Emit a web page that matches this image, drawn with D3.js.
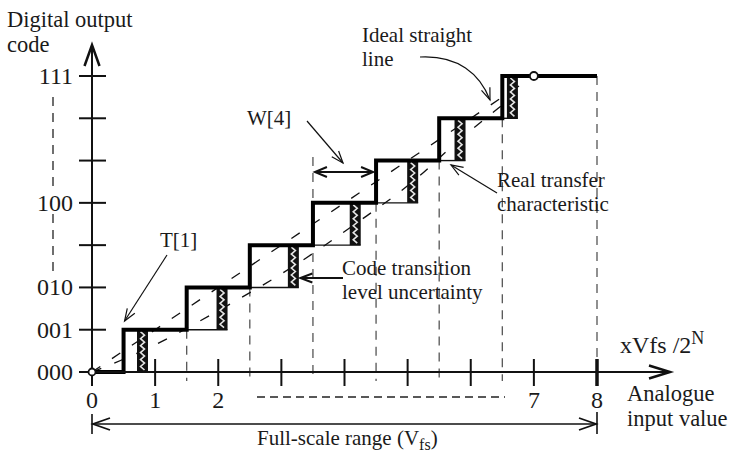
<!DOCTYPE html>
<html>
<head>
<meta charset="utf-8">
<script src="https://cdn.jsdelivr.net/npm/d3@7"></script>
<style>
  body { margin: 0; background: #fff; }
  text { font-family: "Liberation Serif", "Times New Roman", serif; fill: #1a1a1a; }
</style>
</head>
<body>
<svg id="chart" width="738" height="453"></svg>
<script>
// output codes (level index = code value)
const codes = ["000", "001", "010", "011", "100", "101", "110", "111"];
const shownCodes = [0, 1, 2, 4, 7];
// x tick labels (multiples of Vfs/2^N)
const xTicks = [1, 2, 3, 4, 5, 6, 7, 8];
const xTickLabels = [0, 1, 2, 7, 8];
// ideal code transitions (riser positions) and real transition centres
const idealTransitions = [0.5, 1.5, 2.5, 3.5, 4.5, 5.5, 6.5];
const realTransitions = [0.8, 2.06, 3.19, 4.17, 5.08, 5.83, 6.66];
const fullScale = 8;

var svg = d3.select("#chart");
var x = d3.scaleLinear().domain([0, 8]).range([92, 597]);
var y = d3.scaleLinear().domain([0, 7]).range([372, 76]);

function arrowHead(g, tx, ty, ang, len, half, w) {
  var c = Math.cos(ang), s = Math.sin(ang);
  var bx = tx - c * len, by = ty - s * len;
  g.append("path")
    .attr("d", "M" + (bx - s * half) + "," + (by + c * half) + "L" + tx + "," + ty +
               "L" + (bx + s * half) + "," + (by - c * half))
    .attr("fill", "none").attr("stroke", "#111").attr("stroke-width", w)
    .attr("stroke-linejoin", "miter");
}

// dashed vertical guides under each riser
var guides = svg.append("g").attr("stroke", "#555").attr("stroke-width", 1.3)
  .attr("stroke-dasharray", "9,7");
idealTransitions.forEach(function(t, i) {
  if (i === 0) return;
  var top = (i === 3) ? 157 : y(i);
  guides.append("line").attr("x1", x(t)).attr("x2", x(t)).attr("y1", top).attr("y2", 381);
});
guides.append("line").attr("x1", x(fullScale)).attr("x2", x(fullScale)).attr("y1", y(7)).attr("y2", 372);
// omitted codes marker on the left
guides.append("line").attr("x1", 53).attr("x2", 53).attr("y1", 97).attr("y2", 186).attr("stroke", "#222");
guides.append("line").attr("x1", 53).attr("x2", 53).attr("y1", 214).attr("y2", 272).attr("stroke", "#222");
// omitted x ticks marker
svg.append("line").attr("x1", 257).attr("x2", 505).attr("y1", 397).attr("y2", 397)
  .attr("stroke", "#222").attr("stroke-width", 1.3).attr("stroke-dasharray", "8,5");

// ideal straight line and line through real transitions
var diag = svg.append("g").attr("fill", "none").attr("stroke", "#111")
  .attr("stroke-width", 1.3).attr("stroke-dasharray", "10,14");
diag.append("path").attr("d", d3.line().x(d => x(d[0])).y(d => y(d[1]))([[0, 0], [6.82, 6.82]]));
var realPts = [[0, 0]].concat(realTransitions.map((t, i) => [t, i + 0.5]));
diag.append("path").attr("d", d3.line().x(d => x(d[0])).y(d => y(d[1])).curve(d3.curveMonotoneX)(realPts));

// thin lower edges of each box
realTransitions.forEach(function(t, i) {
  svg.append("line").attr("x1", x(idealTransitions[i])).attr("x2", x(t) + 5.5)
    .attr("y1", y(i)).attr("y2", y(i)).attr("stroke", "#111").attr("stroke-width", 1.4);
});

// transition uncertainty bands
realTransitions.forEach(function(t, i) {
  var cx = x(t), y0 = y(i), y1 = y(i + 1);
  svg.append("rect").attr("x", cx - 5.5).attr("width", 11).attr("y", y1).attr("height", y0 - y1)
    .attr("fill", "#111");
  var pts = [];
  var n = Math.round((y0 - y1) / 4);
  for (var j = 0; j <= n; j++) pts.push([cx + (j % 2 ? 2 : -2), y1 + 2 + j * (y0 - y1 - 4) / n]);
  svg.append("path").attr("d", d3.line()(pts)).attr("fill", "none")
    .attr("stroke", "#e4e4e4").attr("stroke-width", 1.6);
});

// real transfer characteristic (staircase)
var stairPts = [[0, 0]].concat(idealTransitions.map((t, i) => [t, i + 1]), [[fullScale, 7]]);
svg.append("path")
  .attr("d", d3.line().x(d => x(d[0])).y(d => y(d[1])).curve(d3.curveStepAfter)(stairPts))
  .attr("fill", "none").attr("stroke", "#000").attr("stroke-width", 4).attr("stroke-linejoin", "miter");

// axes
var ax = svg.append("g").attr("stroke", "#111").attr("stroke-width", 2);
ax.append("line").attr("x1", x(0)).attr("x2", x(0)).attr("y1", 386).attr("y2", 46);
arrowHead(ax, x(0), 45, -Math.PI / 2, 21, 7.5, 2.5);
ax.append("line").attr("x1", 79).attr("x2", 669).attr("y1", y(0)).attr("y2", y(0));
arrowHead(ax, 670, y(0), 0, 21, 6.5, 2.5);
d3.range(1, 8).forEach(function(k) {
  ax.append("line").attr("x1", 79).attr("x2", 106).attr("y1", y(k)).attr("y2", y(k));
});
xTicks.forEach(function(v) {
  ax.append("line").attr("x1", x(v)).attr("x2", x(v)).attr("y1", 359).attr("y2", 386)
    .attr("stroke-width", v === fullScale ? 3.5 : 2);
});

// circles
[[0, 0], [7, 7]].forEach(function(p, i) {
  svg.append("circle").attr("cx", x(p[0])).attr("cy", y(p[1])).attr("r", i ? 4 : 3.5)
    .attr("fill", "#fff").attr("stroke", "#111").attr("stroke-width", 1.8);
});

// tick labels
svg.selectAll(".ylab").data(shownCodes).enter().append("text")
  .attr("x", 73).attr("y", d => y(d) + 8).attr("text-anchor", "end")
  .style("font-size", "24px").text(d => codes[d]);
svg.selectAll(".xlab").data(xTickLabels).enter().append("text")
  .attr("x", d => x(d)).attr("y", 408).attr("text-anchor", "middle")
  .style("font-size", "24px").text(d => d);

// axis titles
svg.append("text").attr("x", 7).attr("y", 27).style("font-size", "22.5px").text("Digital output");
svg.append("text").attr("x", 7).attr("y", 52).style("font-size", "22.5px").text("code");
var xv = svg.append("text").attr("x", 620).attr("y", 353).style("font-size", "24px");
xv.append("tspan").text("xVfs /2");
xv.append("tspan").attr("dy", -9).style("font-size", "18px").text("N");
svg.append("text").attr("x", 627).attr("y", 401).style("font-size", "22.5px").text("Analogue");
svg.append("text").attr("x", 627).attr("y", 426).style("font-size", "22.5px").text("input value");

// full scale range
var fr = svg.append("g").attr("stroke", "#111").attr("stroke-width", 1.6);
fr.append("line").attr("x1", x(0)).attr("x2", x(fullScale)).attr("y1", 424).attr("y2", 424);
fr.append("line").attr("x1", x(0)).attr("x2", x(0)).attr("y1", 414).attr("y2", 434);
fr.append("line").attr("x1", x(fullScale)).attr("x2", x(fullScale)).attr("y1", 412).attr("y2", 434);
arrowHead(fr, x(0) + 1, 424, Math.PI, 17, 6, 1.8);
arrowHead(fr, x(fullScale) - 1, 424, 0, 17, 6, 1.8);
var ft = svg.append("text").attr("x", 257).attr("y", 445).style("font-size", "21px");
ft.append("tspan").text("Full-scale range (V");
ft.append("tspan").attr("dy", 5).style("font-size", "16px").text("fs");
ft.append("tspan").attr("dy", -5).text(")");

// annotations
var an = svg.append("g").attr("fill", "none").attr("stroke", "#111").attr("stroke-width", 1.2);
function pointer(x1, y1, x2, y2, w) {
  an.append("line").attr("x1", x1).attr("y1", y1).attr("x2", x2).attr("y2", y2).attr("stroke-width", w);
  arrowHead(an, x2, y2, Math.atan2(y2 - y1, x2 - x1), 12, 4.5, w);
}
svg.append("text").attr("x", 160).attr("y", 247).style("font-size", "21px").text("T[1]");
pointer(167, 255, x(0.5) + 1, 321, 1.2);

svg.append("text").attr("x", 247).attr("y", 125).style("font-size", "21px").text("W[4]");
pointer(307, 121, 343, 163, 1.2);
an.append("line").attr("x1", x(3.5) + 2).attr("x2", x(4.5) - 3).attr("y1", 172).attr("y2", 172).attr("stroke-width", 2);
arrowHead(an, x(3.5) + 2, 172, Math.PI, 12, 5, 2);
arrowHead(an, x(4.5) - 3, 172, 0, 12, 5, 2);

svg.append("text").attr("x", 342).attr("y", 275).style("font-size", "21px").text("Code transition");
svg.append("text").attr("x", 342).attr("y", 299).style("font-size", "21px").text("level uncertainty");
pointer(343, 278, x(realTransitions[2]) + 7, 278, 2);

svg.append("text").attr("x", 497).attr("y", 187).style("font-size", "21px").text("Real transfer");
svg.append("text").attr("x", 497).attr("y", 211).style("font-size", "21px").text("characteristic");
pointer(497, 193, 451, 165, 1.2);

svg.append("text").attr("x", 362).attr("y", 42).style("font-size", "21px").text("Ideal straight");
svg.append("text").attr("x", 362).attr("y", 66).style("font-size", "21px").text("line");
an.append("path").attr("d", "M420,57 C458,55 480,74 490,100");
arrowHead(an, 490, 100, Math.atan2(26, 10), 12, 4.5, 1.2);
</script>
</body>
</html>
